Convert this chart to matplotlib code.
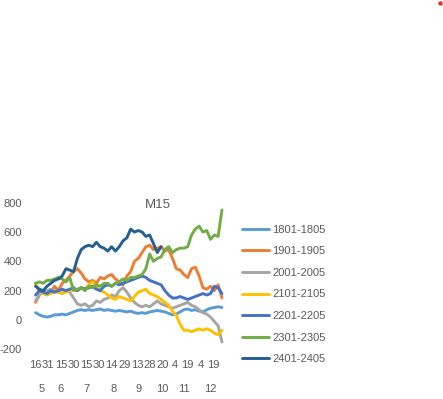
import numpy as np
import matplotlib
matplotlib.use("Agg")
import matplotlib.pyplot as plt
from matplotlib import transforms
from matplotlib.lines import Line2D

# ---------------- data ----------------
series_names = ['1801-1805', '1901-1905', '2001-2005', '2101-2105',
                '2201-2205', '2301-2305', '2401-2405']

s1801 = [50, 35, 25, 20, 25, 35, 35, 40, 35, 45, 55, 65, 70, 65, 70, 65, 70, 75, 65, 70,
         65, 60, 65, 60, 55, 60, 50, 45, 50, 45, 55, 60, 65, 60, 55, 45, 35, 40, 55, 70,
         75, 65, 70, 60, 55, 70, 80, 85, 90, 85]
s1901 = [120, 170, 200, 180, 190, 230, 200, 250, 270, 300, 330, 350, 320, 280, 260, 270, 250, 290, 280, 300,
         310, 280, 260, 240, 300, 330, 400, 420, 460, 500, 510, 480, 490, 500, 470, 480, 420, 350, 340, 310,
         290, 350, 360, 300, 220, 210, 230, 200, 240, 150]
s2001 = [130, 170, 190, 200, 210, 200, 190, 180, 200, 190, 150, 110, 100, 110, 90, 100, 130, 120, 140, 150,
         170, 160, 200, 220, 190, 150, 120, 100, 90, 100, 90, 110, 130, 110, 100, 90, 80, 90, 100, 110,
         120, 100, 90, 70, 50, 40, 20, -10, -40, -150]
s2101 = [250, 190, 180, 170, 180, 190, 190, 180, 190, 200, 210, 200, 220, 210, 240, 260, 230, 200, 190, 170,
         150, 140, 160, 150, 140, 130, 160, 190, 200, 210, 180, 170, 160, 140, 120, 100, 60, 30, -30, -70,
         -70, -80, -70, -60, -70, -60, -70, -90, -100, -70]
s2201 = [170, 200, 190, 180, 200, 190, 200, 210, 200, 210, 220, 200, 220, 210, 220, 230, 210, 200, 230, 240,
         230, 250, 240, 250, 260, 270, 280, 290, 300, 290, 270, 260, 250, 240, 200, 170, 150, 150, 160, 150,
         140, 150, 160, 170, 180, 170, 180, 230, 220, 180]
s2301 = [250, 260, 250, 270, 270, 280, 290, 280, 260, 290, 200, 210, 220, 200, 230, 220, 240, 230, 250, 250,
         230, 250, 260, 280, 270, 290, 290, 300, 310, 350, 450, 400, 420, 430, 480, 500, 460, 480, 490, 490,
         500, 580, 620, 640, 600, 610, 550, 580, 570, 750]
s2401 = [230, 210, 200, 230, 250, 270, 280, 300, 350, 340, 330, 420, 480, 500, 510, 500, 530, 500, 490, 470,
         500, 470, 500, 540, 560, 620, 600, 610, 600, 570, 580, 520, 460, 500]

series_values = [s1801, s1901, s2001, s2101, s2201, s2301, s2401]

day_labels = ['16', '31', '15', '30', '15', '30', '14', '29', '13', '28', '20', '4', '19', '4', '19']
month_labels = ['5', '6', '7', '8', '9', '10', '11', '12']
y_ticks = [-200, 0, 200, 400, 600, 800]
chart_title = 'M15'

# ---------------- style / layout ----------------
colors = ['#5B9BD5', '#ED7D31', '#A5A5A5', '#FFC000', '#4472C4', '#70AD47', '#255E91']
text_color = '#595959'
plt.rcParams['font.family'] = ['Liberation Sans', 'DejaVu Sans']

W, H = 443, 399
fig = plt.figure(figsize=(W / 100, H / 100), dpi=100)

left_px, right_px = 33, 225
top_px, bot_px = 202.7, 349.3
ax = fig.add_axes([left_px / W, 1 - bot_px / H, (right_px - left_px) / W, (bot_px - top_px) / H])

step = 3  # trading days between samples
for vals, name, c in zip(series_values, series_names, colors):
    x = np.arange(len(vals)) * step
    ax.plot(x, vals, color=c, lw=2.1, label=name, solid_joinstyle='round', solid_capstyle='round')

ax.set_ylim(-200, 800)
ax.set_xlim(-2, 149.4)
ax.set_yticks(y_ticks)
ax.set_yticklabels([str(v) for v in y_ticks])
ax.set_xticks(np.arange(len(day_labels)) * 10)
ax.set_xticklabels(day_labels)
ax.tick_params(axis='both', length=0, labelsize=8, labelcolor=text_color)
ax.tick_params(axis='y', pad=8.0)
ax.tick_params(axis='x', pad=8)
for sp in ax.spines.values():
    sp.set_visible(False)
ax.patch.set_visible(False)

# month (second level) labels
month_centers = [4.9, 19.9, 40.4, 61.4, 81.2, 100, 117, 137.5]
tr = transforms.blended_transform_factory(ax.transData, fig.transFigure)
for xc, lab in zip(month_centers, month_labels):
    ax.text(xc, 1 - 389.5 / H, lab, transform=tr, ha='center', va='center',
            fontsize=8, color=text_color)

# title
fig.text(158 / W, 1 - 205.5 / H, chart_title, ha='center', va='center', fontsize=9.5, color=text_color)

# legend
leg = ax.legend(loc='upper left', bbox_to_anchor=(241.7 / W, 1 - 224.8 / H),
                bbox_transform=fig.transFigure, frameon=False, fontsize=8,
                handlelength=2.48, handletextpad=0.25, labelspacing=1.04,
                borderpad=0, borderaxespad=0)
for t in leg.get_texts():
    t.set_color(text_color)
for l in leg.get_lines():
    l.set_linewidth(2.1)

# small red mark at top right
fig.add_artist(Line2D([440 / W], [1 - 3 / H], marker='o', markersize=2.2,
                      color='#E8312A', transform=fig.transFigure))

fig.savefig('out.png', dpi=100)
